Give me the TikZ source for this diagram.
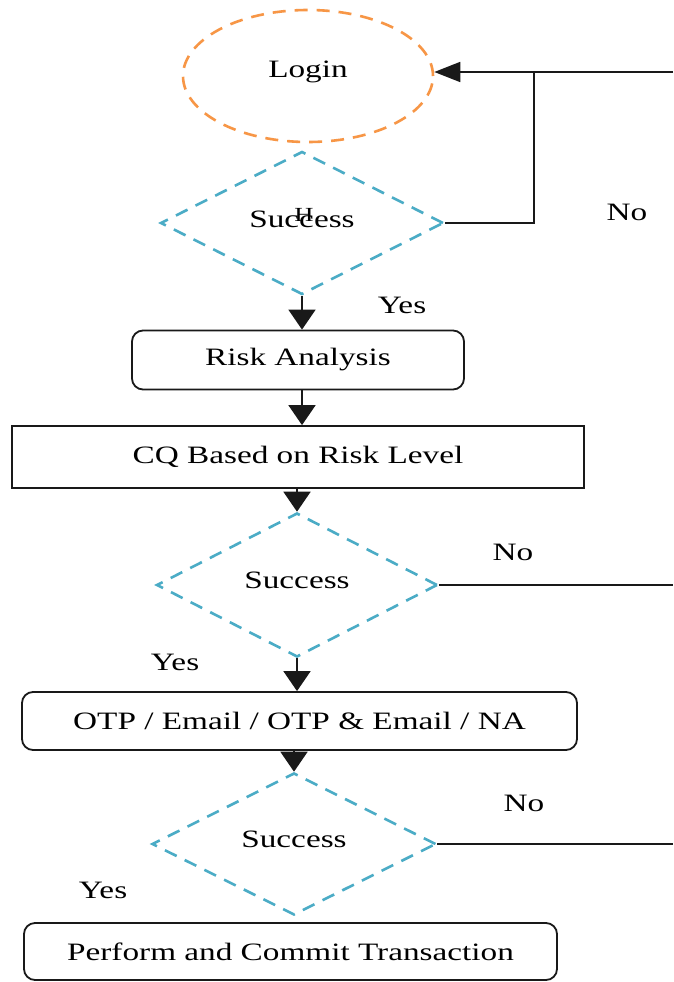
\documentclass[tikz,border=0pt]{standalone}
\usepackage{fontspec}
\setmainfont{Liberation Serif}[FakeStretch=1.33]
\usetikzlibrary{shapes.geometric,arrows.meta}
\definecolor{dblue}{HTML}{4BACC6}
\definecolor{dorange}{HTML}{F79646}
\begin{document}
\begin{tikzpicture}[x=1pt,y=-1pt,
  every node/.style={font=\fontsize{25}{30}\selectfont, inner sep=0pt, text=black},
  decision/.style={diamond, draw=dblue, line width=2.6pt, dash pattern=on 13pt off 9pt},
  startnode/.style={ellipse, draw=dorange, line width=2.6pt, dash pattern=on 13pt off 9pt},
  procbox/.style={rectangle, draw=black!90, line width=1.8pt},
  roundbox/.style={procbox, rounded corners=11pt},
  conn/.style={line width=1.8pt, draw=black!90},
  flow/.style={conn, -{Triangle[length=20pt,width=27pt]}},
  back/.style={conn, -{Triangle[length=26pt,width=20pt]}}
]
\useasboundingbox[fill=white] (0,0) rectangle (673,982);

% nodes
\node[startnode, minimum width=250pt, minimum height=132pt, text depth=14pt] (login) at (308,76) {Login};
\node[decision, minimum width=283pt, minimum height=143pt, text depth=8pt] (d1) at (302,223) {Success};
\node[font=\fontsize{20}{22}\selectfont] (hmark) at (304,215) {H};
\node[roundbox, minimum width=332pt, minimum height=59pt] (risk) at (298,360) {Risk Analysis};
\node[procbox, minimum width=572pt, minimum height=62pt] (cq) at (298,457) {CQ Based on Risk Level};
\node[decision, minimum width=281pt, minimum height=144pt, text depth=10pt] (d2) at (297,585) {Success};
\node[roundbox, minimum width=555pt, minimum height=58pt] (otp) at (299.5,721) {OTP / Email / OTP \& Email / NA};
\node[decision, minimum width=284pt, minimum height=142pt, text depth=10pt] (d3) at (294,844) {Success};
\node[roundbox, minimum width=533pt, minimum height=57pt] (perf) at (290.5,951.5) {Perform and Commit Transaction};

% labels
\node (no1) at (627,212) {No};
\node (yes1) at (402,305) {Yes};
\node (no2) at (513,552) {No};
\node (yes2) at (175,662) {Yes};
\node (no3) at (524,803) {No};
\node (yes3) at (103,890) {Yes};

% connectors
\coordinate (r1) at (673,72);
\coordinate (j1) at (534,72);
\coordinate (r2) at (673,587);
\coordinate (r3) at (673,845);
\draw[back] (r1) -- (r1 -| login.east);
\draw[conn] (d1.east) -| (j1);
\draw[flow] (d1.south) -- (d1.south |- risk.north);
\draw[flow] (risk.south -| d1.south) -- (d1.south |- cq.north);
\draw[flow] (cq.south -| d2.north) -- (d2.north);
\draw[flow] (d2.south) -- (d2.south |- otp.north);
\draw[flow] (otp.south -| d3.north) -- (d3.north);
\draw[conn] (d2.east) -- (d2.east -| r2);
\draw[conn] (d3.east) -- (d3.east -| r3);
\end{tikzpicture}
\end{document}
